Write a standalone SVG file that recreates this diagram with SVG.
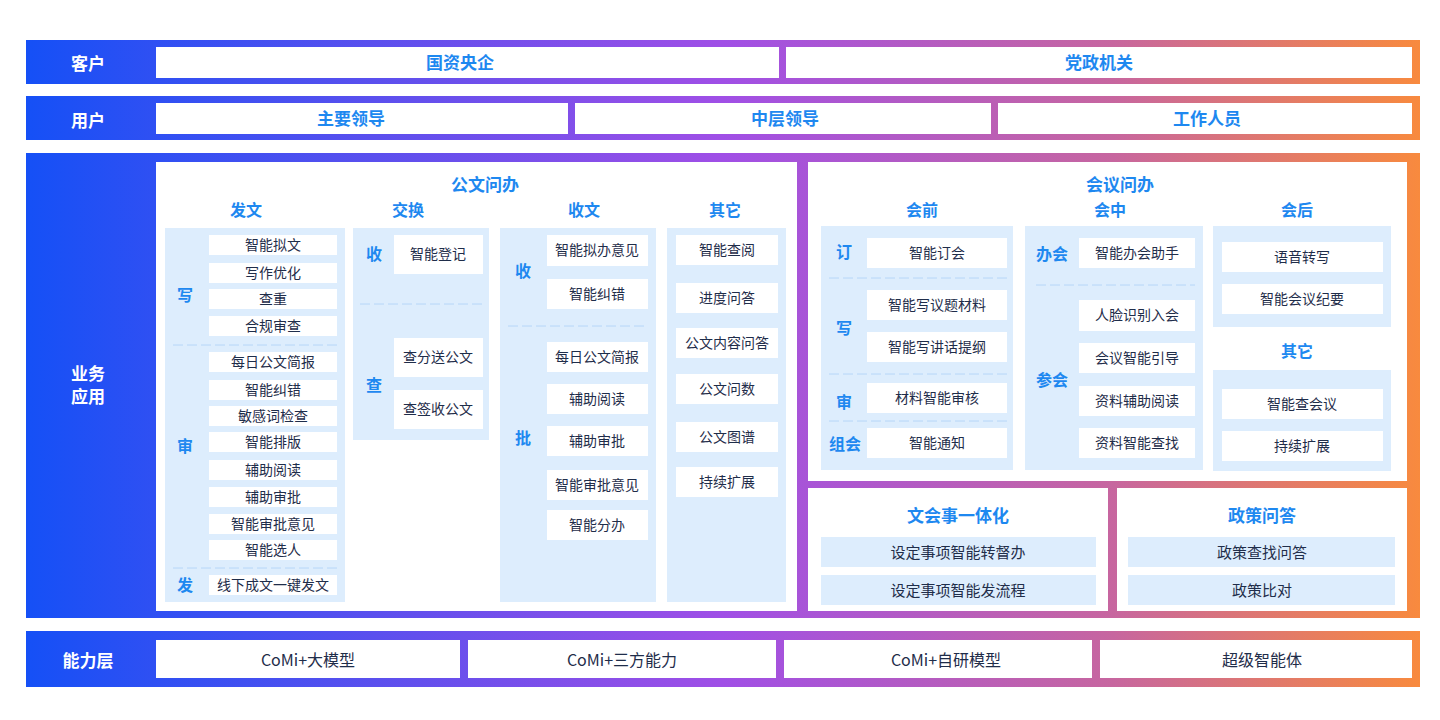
<svg xmlns="http://www.w3.org/2000/svg" width="1440" height="720" viewBox="0 0 1440 720">
<defs>
<linearGradient id="g" x1="26" y1="0" x2="1420" y2="0" gradientUnits="userSpaceOnUse">
<stop offset="0" stop-color="#1550f6"/><stop offset="0.5" stop-color="#a04fe6"/><stop offset="0.78" stop-color="#c7669f"/><stop offset="1" stop-color="#f88a3e"/>
</linearGradient>
<style>
text{font-family:"Noto Sans CJK SC","Noto Sans",sans-serif;text-anchor:middle;dominant-baseline:central}
.w{fill:#fff}.lp{fill:#ddedfd}
.lab{fill:#fff;font-size:17px;font-weight:bold}
.t1{fill:#1e88f0;font-size:17px;font-weight:bold}
.h{fill:#1e88f0;font-size:16px;font-weight:bold}
.s{fill:#1e88f0;font-size:16px;font-weight:bold}
.i{fill:#1f2d4a;font-size:14px}
.m{fill:#1f2d4a;font-size:15px}
.c{fill:#1f2d4a;font-size:16px}
.d{stroke:#b6d6f8;stroke-width:1;stroke-dasharray:10 4;fill:none}
</style>
</defs>
<g id="bands">
<rect x="26" y="40" width="1394" height="44" fill="url(#g)"/>
<rect x="26" y="96" width="1394" height="44" fill="url(#g)"/>
<rect x="26" y="153" width="1394" height="465" fill="url(#g)"/>
<rect x="26" y="631" width="1394" height="56" fill="url(#g)"/>
</g>
<g id="row-customer">
<text class="lab" x="88" y="62">客户</text>
<rect class="w" x="156" y="47" width="623" height="31"/><text class="t1" x="460" y="61">国资央企</text>
<rect class="w" x="786" y="47" width="626" height="31"/><text class="t1" x="1099" y="61">党政机关</text>
</g>
<g id="row-user">
<text class="lab" x="88" y="119">用户</text>
<rect class="w" x="156" y="103" width="412" height="31"/><text class="t1" x="351" y="117">主要领导</text>
<rect class="w" x="575" y="103" width="416" height="31"/><text class="t1" x="785" y="117">中层领导</text>
<rect class="w" x="998" y="103" width="414" height="31"/><text class="t1" x="1207" y="117">工作人员</text>
</g>
<g id="row-business">
<text class="lab" x="88" y="372">业务</text><text class="lab" x="88" y="395">应用</text>
</g>
<g id="gongwen">
<rect class="w" x="156" y="162" width="641" height="449"/>
<text class="t1" x="485" y="183">公文问办</text>
<text class="h" x="246" y="209">发文</text><text class="h" x="408" y="209">交换</text><text class="h" x="584" y="209">收文</text><text class="h" x="725" y="209">其它</text>
<rect class="lp" x="165" y="228" width="180" height="374"/>
<text class="s" x="185" y="294">写</text><text class="s" x="185" y="445">审</text><text class="s" x="185" y="584">发</text>
<g>
<rect class="w" x="209" y="235" width="128" height="20"/><text class="i" x="273" y="244">智能拟文</text>
<rect class="w" x="209" y="263" width="128" height="20"/><text class="i" x="273" y="272">写作优化</text>
<rect class="w" x="209" y="289" width="128" height="20"/><text class="i" x="273" y="298">查重</text>
<rect class="w" x="209" y="316" width="128" height="20"/><text class="i" x="273" y="325">合规审查</text>
<rect class="w" x="209" y="352" width="128" height="20"/><text class="i" x="273" y="361">每日公文简报</text>
<rect class="w" x="209" y="380" width="128" height="20"/><text class="i" x="273" y="389">智能纠错</text>
<rect class="w" x="209" y="406" width="128" height="20"/><text class="i" x="273" y="415">敏感词检查</text>
<rect class="w" x="209" y="432" width="128" height="20"/><text class="i" x="273" y="441">智能排版</text>
<rect class="w" x="209" y="460" width="128" height="20"/><text class="i" x="273" y="469">辅助阅读</text>
<rect class="w" x="209" y="487" width="128" height="20"/><text class="i" x="273" y="496">辅助审批</text>
<rect class="w" x="209" y="514" width="128" height="20"/><text class="i" x="273" y="523">智能审批意见</text>
<rect class="w" x="209" y="540" width="128" height="20"/><text class="i" x="273" y="549">智能选人</text>
<rect class="w" x="209" y="575" width="128" height="20"/><text class="i" x="273" y="584">线下成文一键发文</text>
</g>
<path class="d" d="M173 345H337M173 568H337"/>
<rect class="lp" x="353" y="228" width="136" height="212"/>
<text class="s" x="374" y="253">收</text><text class="s" x="374" y="384">查</text>
<rect class="w" x="394" y="235" width="89" height="39"/><text class="i" x="438" y="253">智能登记</text>
<path class="d" d="M360 304H483"/>
<rect class="w" x="394" y="338" width="89" height="39"/><text class="i" x="438" y="356">查分送公文</text>
<rect class="w" x="394" y="390" width="89" height="39"/><text class="i" x="438" y="408">查签收公文</text>
<rect class="lp" x="500" y="228" width="156" height="374"/>
<text class="s" x="523" y="270">收</text><text class="s" x="523" y="437">批</text>
<rect class="w" x="547" y="235" width="101" height="31"/><text class="i" x="597" y="249">智能拟办意见</text>
<rect class="w" x="547" y="279" width="101" height="30"/><text class="i" x="597" y="293">智能纠错</text>
<path class="d" d="M508 326H648"/>
<rect class="w" x="547" y="342" width="101" height="30"/><text class="i" x="597" y="356">每日公文简报</text>
<rect class="w" x="547" y="384" width="101" height="30"/><text class="i" x="597" y="398">辅助阅读</text>
<rect class="w" x="547" y="426" width="101" height="30"/><text class="i" x="597" y="440">辅助审批</text>
<rect class="w" x="547" y="470" width="101" height="30"/><text class="i" x="597" y="484">智能审批意见</text>
<rect class="w" x="547" y="510" width="101" height="30"/><text class="i" x="597" y="524">智能分办</text>
<rect class="lp" x="667" y="228" width="119" height="374"/>
<rect class="w" x="676" y="235" width="102" height="30"/><text class="i" x="727" y="249">智能查阅</text>
<rect class="w" x="676" y="283" width="102" height="30"/><text class="i" x="727" y="297">进度问答</text>
<rect class="w" x="676" y="328" width="102" height="30"/><text class="i" x="727" y="342">公文内容问答</text>
<rect class="w" x="676" y="374" width="102" height="30"/><text class="i" x="727" y="388">公文问数</text>
<rect class="w" x="676" y="422" width="102" height="30"/><text class="i" x="727" y="436">公文图谱</text>
<rect class="w" x="676" y="467" width="102" height="30"/><text class="i" x="727" y="481">持续扩展</text>
</g>
<g id="huiyi">
<rect class="w" x="808" y="162" width="599" height="319"/>
<text class="t1" x="1120" y="183">会议问办</text>
<text class="h" x="922" y="209">会前</text><text class="h" x="1110" y="209">会中</text><text class="h" x="1297" y="209">会后</text>
<rect class="lp" x="821" y="226" width="192" height="244"/>
<text class="s" x="844" y="251">订</text><text class="s" x="844" y="327">写</text><text class="s" x="844" y="401">审</text><text class="s" x="845" y="443">组会</text>
<rect class="w" x="867" y="238" width="140" height="30"/><text class="i" x="937" y="252">智能订会</text>
<path class="d" d="M829 278H1007M829 374H1007M829 421H1007"/>
<rect class="w" x="867" y="290" width="140" height="30"/><text class="i" x="937" y="304">智能写议题材料</text>
<rect class="w" x="867" y="332" width="140" height="30"/><text class="i" x="937" y="346">智能写讲话提纲</text>
<rect class="w" x="867" y="383" width="140" height="30"/><text class="i" x="937" y="397">材料智能审核</text>
<rect class="w" x="867" y="428" width="140" height="30"/><text class="i" x="937" y="442">智能通知</text>
<rect class="lp" x="1025" y="226" width="178" height="244"/>
<text class="s" x="1052" y="253">办会</text><text class="s" x="1052" y="379">参会</text>
<rect class="w" x="1079" y="238" width="116" height="30"/><text class="i" x="1137" y="252">智能办会助手</text>
<path class="d" d="M1036 285H1195"/>
<rect class="w" x="1079" y="300" width="116" height="31"/><text class="i" x="1137" y="314">人脸识别入会</text>
<rect class="w" x="1079" y="343" width="116" height="30"/><text class="i" x="1137" y="357">会议智能引导</text>
<rect class="w" x="1079" y="386" width="116" height="30"/><text class="i" x="1137" y="400">资料辅助阅读</text>
<rect class="w" x="1079" y="428" width="116" height="30"/><text class="i" x="1137" y="442">资料智能查找</text>
<rect class="lp" x="1213" y="226" width="178" height="101"/>
<rect class="w" x="1222" y="242" width="161" height="30"/><text class="i" x="1302" y="256">语音转写</text>
<rect class="w" x="1222" y="284" width="161" height="30"/><text class="i" x="1302" y="298">智能会议纪要</text>
<text class="h" x="1297" y="350">其它</text>
<rect class="lp" x="1213" y="370" width="178" height="101"/>
<rect class="w" x="1222" y="389" width="161" height="30"/><text class="i" x="1302" y="403">智能查会议</text>
<rect class="w" x="1222" y="431" width="161" height="30"/><text class="i" x="1302" y="445">持续扩展</text>
</g>
<g id="wenhui">
<rect class="w" x="808" y="488" width="300" height="123"/>
<text class="t1" x="958" y="514">文会事一体化</text>
<rect class="lp" x="821" y="537" width="275" height="30"/><text class="m" x="958" y="551">设定事项智能转督办</text>
<rect class="lp" x="821" y="575" width="275" height="30"/><text class="m" x="958" y="589">设定事项智能发流程</text>
</g>
<g id="zhengce">
<rect class="w" x="1117" y="488" width="290" height="123"/>
<text class="t1" x="1262" y="514">政策问答</text>
<rect class="lp" x="1128" y="537" width="267" height="30"/><text class="m" x="1262" y="551">政策查找问答</text>
<rect class="lp" x="1128" y="575" width="267" height="30"/><text class="m" x="1262" y="589">政策比对</text>
</g>
<g id="row-capability">
<text class="lab" x="88" y="659">能力层</text>
<rect class="w" x="156" y="640" width="304" height="38"/><text class="c" x="308" y="659">CoMi+大模型</text>
<rect class="w" x="468" y="640" width="308" height="38"/><text class="c" x="622" y="659">CoMi+三方能力</text>
<rect class="w" x="784" y="640" width="308" height="38"/><text class="c" x="946" y="659">CoMi+自研模型</text>
<rect class="w" x="1100" y="640" width="312" height="38"/><text class="c" x="1262" y="659">超级智能体</text>
</g>
<g id="connectors"/>
</svg>
